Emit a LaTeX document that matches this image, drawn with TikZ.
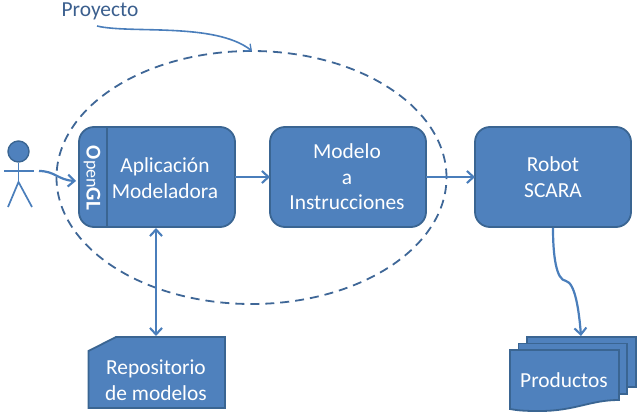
\documentclass[tikz,border=0pt]{standalone}
\usepackage{fontspec}
\setmainfont{Carlito}
\usetikzlibrary{arrows.meta}
\definecolor{fillb}{HTML}{4F81BD}
\definecolor{edgeb}{HTML}{3A6592}
\definecolor{lineb}{HTML}{4A7EBB}
\definecolor{dashb}{HTML}{3F6797}
\definecolor{textb}{HTML}{3B5F8E}
\tikzset{
  x=1pt,y=-1pt,
  flow/.style={draw=edgeb,fill=fillb,line width=1.8pt},
  roundbox/.style={flow,rounded corners=15pt,minimum width=156pt,minimum height=100pt,inner sep=0pt,outer sep=0pt,anchor=north west},
  lbl/.style={text=white,font=\fontsize{21.4}{25.5}\selectfont,align=center,inner sep=0pt},
  conn/.style={draw=lineb,line width=2.2pt,-{Straight Barb[length=6.5pt,width=12pt,line width=2.1pt]}},
  conns/.style={conn,{Straight Barb[length=6.5pt,width=12pt,line width=2.1pt]}-{Straight Barb[length=6.5pt,width=12pt,line width=2.1pt]}},
  stick/.style={draw=lineb,line width=1.7pt}
}
\begin{document}
\begin{tikzpicture}
\useasboundingbox (0,0) rectangle (640,417);
% ellipse
\draw[draw=dashb,line width=1.8pt,dash pattern=on 9pt off 6pt] (251.5,177.5) ellipse [x radius=195pt,y radius=126.5pt];
% boxes
\node[roundbox] (app) at (79,127) {};
\draw[edgeb,line width=1.2pt] (107,127) -- (107,227);
\node[lbl] (applbl) at (165,178) {Aplicación\\Modeladora};
\node[lbl,rotate=-90,font=\fontsize{21}{22}\selectfont] (ogl) at (92,178) {\bfseries O\fontsize{18}{22}\selectfont\mdseries pen\fontsize{21}{22}\selectfont\bfseries GL};
\node[roundbox] (modelo) at (270,127) {};
\node[lbl] (modelolbl) at (347,177) {Modelo\\a\\Instrucciones};
\node[roundbox] (robot) at (475,127) {};
\node[lbl] (robotlbl) at (553,177) {Robot\\SCARA};
% repository
\draw[flow] (116,337) -- (225,337) -- (225,408) -- (88.5,408) -- (88.5,351) -- cycle;
\node[lbl] (repo) at (156,380) {Repositorio\\de modelos};
\coordinate (repoin) at (156,336);
% products
\draw[flow] (527,337) -- (636,337) -- (636,387) -- (527,387) -- cycle;
\draw[flow] (518.5,343.5) -- (627,343.5) -- (627,394) -- (518.5,394) -- cycle;
\draw[flow] (510,350) -- (619,350) -- (619,400) .. controls (590,400) and (575,411) .. (540,411) .. controls (530,411) and (520,411) .. (510,409) -- cycle;
\node[lbl] (prod) at (564,380) {Productos};
\coordinate (prodin) at (581,336);
% actor
\node[draw=edgeb,fill=fillb,line width=1.4pt,circle,minimum size=21pt,inner sep=0pt] (head) at (18.5,151.5) {};
\coordinate (arml) at (4,171);
\coordinate (armr) at (34,171);
\coordinate (hip) at (18.5,182);
\coordinate (legl) at (8,207);
\coordinate (legr) at (32,207);
\draw[stick] (head.south) -- (hip);
\draw[stick] (arml) -- (armr);
\draw[stick] (legl) -- (hip) -- (legr);
% connectors
\coordinate (actout) at (39,171);
\coordinate (appin) at (76,181);
\coordinate (appdown) at (156,228);
\coordinate (robotdown) at (553,228);
\draw[conn] (actout) .. controls (55,171) and (58,180) .. (appin);
\draw[conn] (app.east) -- (modelo.west);
\draw[conn] (modelo.east) -- (robot.west);
\draw[conns] (appdown) -- (repoin);
\draw[conn] (robotdown) .. controls (553,255) and (556,280) .. (566,281) .. controls (575,283) and (579,310) .. (prodin);
% proyecto
\node[text=textb,font=\fontsize{21.4}{22}\selectfont,inner sep=0pt,anchor=center] (proy) at (100,11) {Proyecto};
\coordinate (pyout) at (97,26);
\coordinate (pyin) at (252,51);
\draw[draw=lineb,line width=1.6pt,-{Straight Barb[length=5pt,width=9pt,line width=1.3pt]}] (pyout) .. controls (130,34) and (215,22) .. (pyin);
\end{tikzpicture}
\end{document}
